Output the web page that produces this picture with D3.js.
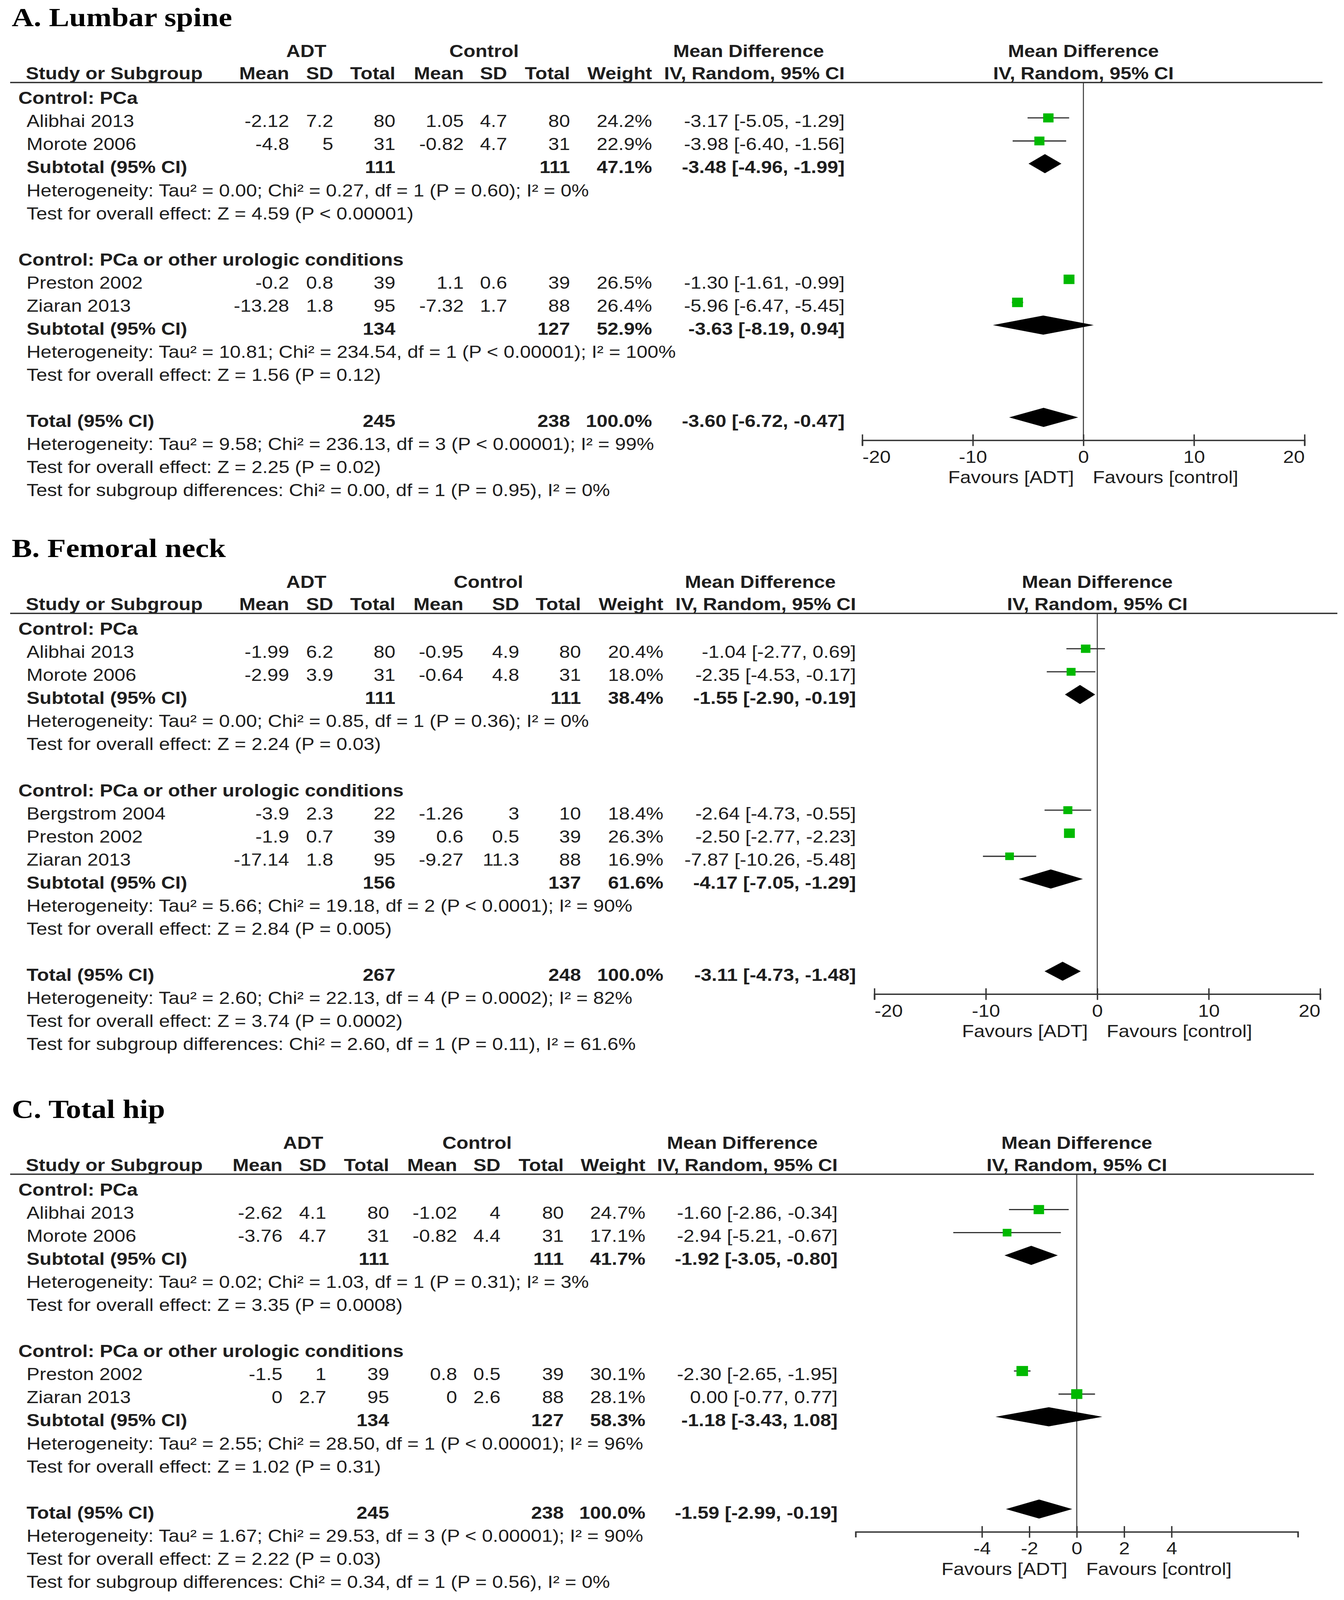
<!DOCTYPE html>
<html>
<head>
<meta charset="utf-8">
<script src="https://cdn.jsdelivr.net/npm/d3@7"></script>
<style>
  html, body { margin: 0; padding: 0; background: #fff; overflow: hidden; }
  svg { display: block; width: 100vw; height: 100vh; }
  text { font-family: "Liberation Sans", Arial, sans-serif; fill: #1e1e1e; }
</style>
</head>
<body>
<div id="chart"></div>
<script>
// --- Data ---
const subgroups = ["Control: PCa", "Control: PCa or other urologic conditions"];
const panelTitles = ["A. Lumbar spine", "B. Femoral neck", "C. Total hip"];

const lumbarStudies = [
    { study: "Alibhai 2013", sub: 0, adtMean: -2.12, adtSD: 7.2, adtN: 80, ctlMean: 1.05, ctlSD: 4.7, ctlN: 80, weight: 24.2, md: -3.17, lo: -5.05, hi: -1.29 },
    { study: "Morote 2006", sub: 0, adtMean: -4.8, adtSD: 5, adtN: 31, ctlMean: -0.82, ctlSD: 4.7, ctlN: 31, weight: 22.9, md: -3.98, lo: -6.40, hi: -1.56 },
    { study: "Preston 2002", sub: 1, adtMean: -0.2, adtSD: 0.8, adtN: 39, ctlMean: 1.1, ctlSD: 0.6, ctlN: 39, weight: 26.5, md: -1.30, lo: -1.61, hi: -0.99 },
    { study: "Ziaran 2013", sub: 1, adtMean: -13.28, adtSD: 1.8, adtN: 95, ctlMean: -7.32, ctlSD: 1.7, ctlN: 88, weight: 26.4, md: -5.96, lo: -6.47, hi: -5.45 }
];
const lumbarSubtotals = [
    { adtN: 111, ctlN: 111, weight: 47.1, md: -3.48, lo: -4.96, hi: -1.99 },
    { adtN: 134, ctlN: 127, weight: 52.9, md: -3.63, lo: -8.19, hi: 0.94 }
];
const lumbarTotal = { adtN: 245, ctlN: 238, weight: 100.0, md: -3.60, lo: -6.72, hi: -0.47 };
const lumbarSubNotes = [
    ["Heterogeneity: Tau² = 0.00; Chi² = 0.27, df = 1 (P = 0.60); I² = 0%", "Test for overall effect: Z = 4.59 (P < 0.00001)"],
    ["Heterogeneity: Tau² = 10.81; Chi² = 234.54, df = 1 (P < 0.00001); I² = 100%", "Test for overall effect: Z = 1.56 (P = 0.12)"]
];
const lumbarTotalNotes = [
    "Heterogeneity: Tau² = 9.58; Chi² = 236.13, df = 3 (P < 0.00001); I² = 99%",
    "Test for overall effect: Z = 2.25 (P = 0.02)",
    "Test for subgroup differences: Chi² = 0.00, df = 1 (P = 0.95), I² = 0%"
];
const lumbarTicks = [-20, -10, 0, 10, 20];

const femoralStudies = [
    { study: "Alibhai 2013", sub: 0, adtMean: -1.99, adtSD: 6.2, adtN: 80, ctlMean: -0.95, ctlSD: 4.9, ctlN: 80, weight: 20.4, md: -1.04, lo: -2.77, hi: 0.69 },
    { study: "Morote 2006", sub: 0, adtMean: -2.99, adtSD: 3.9, adtN: 31, ctlMean: -0.64, ctlSD: 4.8, ctlN: 31, weight: 18.0, md: -2.35, lo: -4.53, hi: -0.17 },
    { study: "Bergstrom 2004", sub: 1, adtMean: -3.9, adtSD: 2.3, adtN: 22, ctlMean: -1.26, ctlSD: 3, ctlN: 10, weight: 18.4, md: -2.64, lo: -4.73, hi: -0.55 },
    { study: "Preston 2002", sub: 1, adtMean: -1.9, adtSD: 0.7, adtN: 39, ctlMean: 0.6, ctlSD: 0.5, ctlN: 39, weight: 26.3, md: -2.50, lo: -2.77, hi: -2.23 },
    { study: "Ziaran 2013", sub: 1, adtMean: -17.14, adtSD: 1.8, adtN: 95, ctlMean: -9.27, ctlSD: 11.3, ctlN: 88, weight: 16.9, md: -7.87, lo: -10.26, hi: -5.48 }
];
const femoralSubtotals = [
    { adtN: 111, ctlN: 111, weight: 38.4, md: -1.55, lo: -2.90, hi: -0.19 },
    { adtN: 156, ctlN: 137, weight: 61.6, md: -4.17, lo: -7.05, hi: -1.29 }
];
const femoralTotal = { adtN: 267, ctlN: 248, weight: 100.0, md: -3.11, lo: -4.73, hi: -1.48 };
const femoralSubNotes = [
    ["Heterogeneity: Tau² = 0.00; Chi² = 0.85, df = 1 (P = 0.36); I² = 0%", "Test for overall effect: Z = 2.24 (P = 0.03)"],
    ["Heterogeneity: Tau² = 5.66; Chi² = 19.18, df = 2 (P < 0.0001); I² = 90%", "Test for overall effect: Z = 2.84 (P = 0.005)"]
];
const femoralTotalNotes = [
    "Heterogeneity: Tau² = 2.60; Chi² = 22.13, df = 4 (P = 0.0002); I² = 82%",
    "Test for overall effect: Z = 3.74 (P = 0.0002)",
    "Test for subgroup differences: Chi² = 2.60, df = 1 (P = 0.11), I² = 61.6%"
];
const femoralTicks = [-20, -10, 0, 10, 20];

const hipStudies = [
    { study: "Alibhai 2013", sub: 0, adtMean: -2.62, adtSD: 4.1, adtN: 80, ctlMean: -1.02, ctlSD: 4, ctlN: 80, weight: 24.7, md: -1.60, lo: -2.86, hi: -0.34 },
    { study: "Morote 2006", sub: 0, adtMean: -3.76, adtSD: 4.7, adtN: 31, ctlMean: -0.82, ctlSD: 4.4, ctlN: 31, weight: 17.1, md: -2.94, lo: -5.21, hi: -0.67 },
    { study: "Preston 2002", sub: 1, adtMean: -1.5, adtSD: 1, adtN: 39, ctlMean: 0.8, ctlSD: 0.5, ctlN: 39, weight: 30.1, md: -2.30, lo: -2.65, hi: -1.95 },
    { study: "Ziaran 2013", sub: 1, adtMean: 0, adtSD: 2.7, adtN: 95, ctlMean: 0, ctlSD: 2.6, ctlN: 88, weight: 28.1, md: 0.00, lo: -0.77, hi: 0.77 }
];
const hipSubtotals = [
    { adtN: 111, ctlN: 111, weight: 41.7, md: -1.92, lo: -3.05, hi: -0.80 },
    { adtN: 134, ctlN: 127, weight: 58.3, md: -1.18, lo: -3.43, hi: 1.08 }
];
const hipTotal = { adtN: 245, ctlN: 238, weight: 100.0, md: -1.59, lo: -2.99, hi: -0.19 };
const hipSubNotes = [
    ["Heterogeneity: Tau² = 0.02; Chi² = 1.03, df = 1 (P = 0.31); I² = 3%", "Test for overall effect: Z = 3.35 (P = 0.0008)"],
    ["Heterogeneity: Tau² = 2.55; Chi² = 28.50, df = 1 (P < 0.00001); I² = 96%", "Test for overall effect: Z = 1.02 (P = 0.31)"]
];
const hipTotalNotes = [
    "Heterogeneity: Tau² = 1.67; Chi² = 29.53, df = 3 (P < 0.00001); I² = 90%",
    "Test for overall effect: Z = 2.22 (P = 0.03)",
    "Test for subgroup differences: Chi² = 0.34, df = 1 (P = 0.56), I² = 0%"
];
const hipTicks = [-4, -2, 0, 2, 4];

const colHeaders = ["Mean", "SD", "Total", "Mean", "SD", "Total", "Weight", "IV, Random, 95% CI"];

// --- Layout (pixel positions per panel) ---
const layouts = [
    { top: 0, cols: [740, 853, 1012, 1187, 1298, 1459, 1669, 2162], groupX: [784, 1239, 1916],
      domain: [-20, 20], range: [2207, 3339], lineEnd: 3385 },
    { top: 1556, cols: [740, 853, 1012, 1186, 1329, 1487, 1698, 2191], groupX: [784, 1250, 1946],
      domain: [-20, 20], range: [2238, 3379], lineEnd: 3423 },
    { top: 3200, cols: [723, 835, 996, 1170, 1281, 1443, 1652, 2144], groupX: [776, 1221, 1900],
      domain: [-9.33, 9.33], range: [2190, 3322], lineEnd: 3363 }
];

const panels = [
    { studies: lumbarStudies, subtotals: lumbarSubtotals, total: lumbarTotal, subNotes: lumbarSubNotes, totalNotes: lumbarTotalNotes, ticks: lumbarTicks },
    { studies: femoralStudies, subtotals: femoralSubtotals, total: femoralTotal, subNotes: femoralSubNotes, totalNotes: femoralTotalNotes, ticks: femoralTicks },
    { studies: hipStudies, subtotals: hipSubtotals, total: hipTotal, subNotes: hipSubNotes, totalNotes: hipTotalNotes, ticks: hipTicks }
];

const FONT = 50;
const ROW = 67.6;
const GREEN = "#00b900";
const INK = "#333";

const fmt2 = v => v.toFixed(2);
const fmtCI = d => `${fmt2(d.md)} [${fmt2(d.lo)}, ${fmt2(d.hi)}]`;
const fmtW = v => v.toFixed(1) + "%";

// The window is shorter than the 3440x4690 drawing, so stretch the drawing to fill it
const svg = d3.select("#chart").append("svg")
    .attr("viewBox", [0, 0, 3440, 4690])
    .attr("preserveAspectRatio", "none");

// Box side grows with the square root of weight (area ~ weight)
const boxSize = d3.scaleSqrt().domain([0, 100]).range([0, 54]);

// Builds the list of table rows for one panel
function buildRows(p) {
    const rows = [];
    subgroups.forEach((g, gi) => {
        rows.push({ type: "group", label: g });
        p.studies.filter(s => s.sub === gi).forEach(s => rows.push({ type: "study", label: s.study, ...s }));
        rows.push({ type: "subtotal", label: "Subtotal (95% CI)", ...p.subtotals[gi] });
        p.subNotes[gi].forEach(n => rows.push({ type: "note", label: n }));
        rows.push({ type: "blank" });
    });
    rows.push({ type: "total", label: "Total (95% CI)", ...p.total });
    p.totalNotes.forEach(n => rows.push({ type: "note", label: n }));
    return rows;
}

function drawPanel(p, L, title) {
    const g = svg.append("g").attr("transform", `translate(0,${L.top})`);
    const rows = buildRows(p);
    const yRow = d3.scaleLinear().domain([0, 1]).range([305, 305 + ROW]);
    const x = d3.scaleLinear().domain(L.domain).range(L.range);
    const totalIdx = rows.findIndex(r => r.type === "total");
    const axisY = yRow(totalIdx) + 39;

    // Title
    g.append("text")
        .attr("x", 30).attr("y", 77)
        .style("font-family", '"Liberation Serif", "Times New Roman", serif')
        .style("font-weight", "bold")
        .style("font-size", "78px")
        .style("fill", "#000")
        .text(title);

    // Header, first line
    const head1 = [
        { t: "ADT", x: L.groupX[0] },
        { t: "Control", x: L.groupX[1] },
        { t: "Mean Difference", x: L.groupX[2] },
        { t: "Mean Difference", x: x(0) }
    ];
    g.selectAll(".h1").data(head1).join("text")
        .attr("x", d => d.x).attr("y", 167)
        .attr("text-anchor", "middle")
        .style("font-size", FONT + "px").style("font-weight", "bold")
        .text(d => d.t);

    // Header, second line
    g.append("text").attr("x", 66).attr("y", 233)
        .style("font-size", FONT + "px").style("font-weight", "bold")
        .text("Study or Subgroup");
    g.selectAll(".h2").data(colHeaders).join("text")
        .attr("x", (d, i) => L.cols[i]).attr("y", 233)
        .attr("text-anchor", "end")
        .style("font-size", FONT + "px").style("font-weight", "bold")
        .text(d => d);
    g.append("text").attr("x", x(0)).attr("y", 233)
        .attr("text-anchor", "middle")
        .style("font-size", FONT + "px").style("font-weight", "bold")
        .text("IV, Random, 95% CI");

    g.append("line")
        .attr("x1", 26).attr("x2", L.lineEnd)
        .attr("y1", 242).attr("y2", 242)
        .attr("stroke", INK).attr("stroke-width", 4);

    // Row texts
    rows.forEach((r, i) => {
        const y = yRow(i);
        if (r.type === "blank") return;
        const bold = r.type === "group" || r.type === "subtotal" || r.type === "total";
        g.append("text")
            .attr("x", r.type === "group" ? 47 : 68).attr("y", y)
            .style("font-size", FONT + "px")
            .style("font-weight", bold ? "bold" : "normal")
            .text(r.label);

        let cells = [];
        if (r.type === "study") {
            cells = [r.adtMean, r.adtSD, r.adtN, r.ctlMean, r.ctlSD, r.ctlN].map(String)
                .concat([fmtW(r.weight), fmtCI(r)]);
        } else if (r.type === "subtotal" || r.type === "total") {
            cells = ["", "", String(r.adtN), "", "", String(r.ctlN), fmtW(r.weight), fmtCI(r)];
        }
        cells.forEach((c, ci) => {
            if (!c) return;
            g.append("text")
                .attr("x", L.cols[ci]).attr("y", y)
                .attr("text-anchor", "end")
                .style("font-size", FONT + "px")
                .style("font-weight", bold ? "bold" : "normal")
                .text(c);
        });
    });

    // Line of no effect
    g.append("line")
        .attr("x1", x(0)).attr("x2", x(0))
        .attr("y1", 242).attr("y2", axisY)
        .attr("stroke", INK).attr("stroke-width", 2.5);

    // Study estimates
    const studyRows = rows.map((r, i) => ({ ...r, i })).filter(r => r.type === "study");
    g.selectAll(".ci").data(studyRows).join("line")
        .attr("x1", d => x(d.lo)).attr("x2", d => x(d.hi))
        .attr("y1", d => yRow(d.i) - 27).attr("y2", d => yRow(d.i) - 27)
        .attr("stroke", INK).attr("stroke-width", 3.5);
    g.selectAll(".box").data(studyRows).join("rect")
        .attr("x", d => x(d.md) - boxSize(d.weight) / 2)
        .attr("y", d => yRow(d.i) - 27 - boxSize(d.weight) / 2)
        .attr("width", d => boxSize(d.weight))
        .attr("height", d => boxSize(d.weight))
        .attr("fill", GREEN);

    // Pooled estimates
    const pooled = rows.map((r, i) => ({ ...r, i })).filter(r => r.type === "subtotal" || r.type === "total");
    g.selectAll(".diamond").data(pooled).join("path")
        .attr("d", d => {
            const yc = yRow(d.i) - 28;
            return `M${x(d.lo)},${yc}L${x(d.md)},${yc - 28}L${x(d.hi)},${yc}L${x(d.md)},${yc + 28}Z`;
        })
        .attr("fill", "#000");

    // Axis
    const axis = g.append("g")
        .attr("transform", `translate(0,${axisY})`)
        .call(d3.axisBottom(x).tickValues(p.ticks).tickSizeOuter(0).tickSize(16).tickFormat(d => String(d)));
    axis.attr("font-family", null).attr("font-size", null).style("color", "#222");
    axis.select(".domain").attr("stroke", INK).attr("stroke-width", 4);
    axis.selectAll(".tick line").attr("y1", -17).attr("y2", 17).attr("stroke", INK).attr("stroke-width", 3.5);
    axis.selectAll(".tick text")
        .attr("y", 66).attr("dy", null)
        .style("font-size", FONT + "px")
        .attr("text-anchor", d => d === L.domain[0] ? "start" : d === L.domain[1] ? "end" : "middle");

    g.append("text")
        .attr("x", x(0) - 24).attr("y", axisY + 126)
        .attr("text-anchor", "end")
        .style("font-size", FONT + "px")
        .text("Favours [ADT]");
    g.append("text")
        .attr("x", x(0) + 24).attr("y", axisY + 126)
        .style("font-size", FONT + "px")
        .text("Favours [control]");
}

panels.forEach((p, i) => drawPanel(p, layouts[i], panelTitles[i]));
</script>
</body>
</html>
